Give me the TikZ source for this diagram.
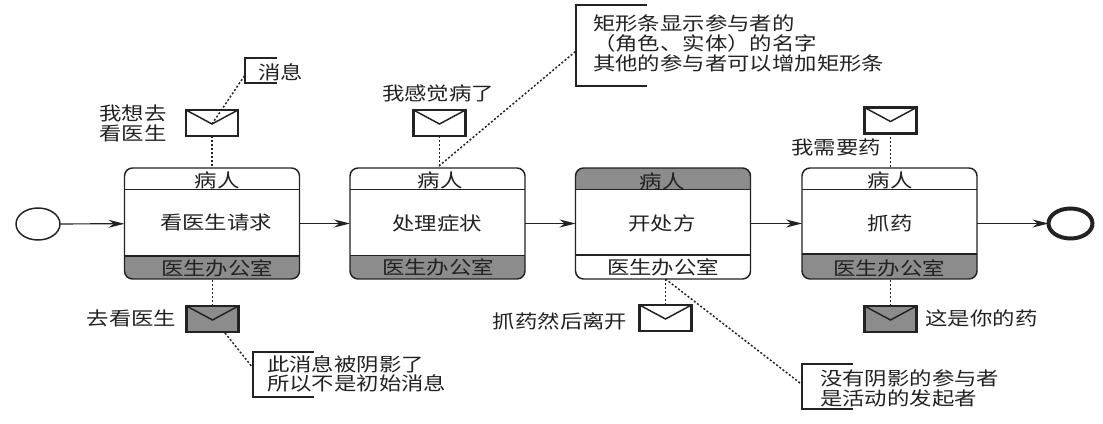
\documentclass[tikz,border=0pt]{standalone}
\usepackage{fontspec}
\setmainfont{Noto Sans CJK SC}[FakeStretch=1.2]
\usetikzlibrary{arrows.meta,calc,shapes.geometric}
\def\px{0.75pt}
\definecolor{panelgray}{HTML}{8C8C8C}
\definecolor{ink}{HTML}{222222}
\tikzset{
  every node/.style={text=ink,font=\fontsize{14pt}{15pt}\selectfont,inner sep=0pt,outer sep=0pt},
  lbl/.style={align=left},
  rlbl/.style={align=center},
  activity/.style={draw=ink,line width=1.1pt,rectangle,rounded corners=6pt,minimum width=175*\px,minimum height=111*\px},
  flow/.style={draw=ink,line width=0.9pt,-{Stealth[length=12pt,width=6pt]}},
  dots/.style={draw=ink,line width=1.1pt,dash pattern=on 1.5pt off 1.5pt},
  envelope/.style={rectangle,draw=ink,line width=1.6pt,minimum width=52*\px,minimum height=26*\px},
  shaded envelope/.style={envelope,fill=panelgray,line width=2.1pt},
  bracket/.style={draw=ink,line width=1.1pt},
  event/.style={ellipse,draw=ink,line width=1.1pt,minimum width=44*\px,minimum height=32*\px},
  endevent/.style={event,line width=3pt,minimum width=44*\px,minimum height=30*\px}
}
% name, centre x, top fill, bottom fill, bottom rule y
\newcommand{\actbox}[5]{%
  \begin{scope}
    \clip[rounded corners=6pt] (#2-87.5,168) rectangle (#2+87.5,279);
    \fill[#3] (#2-88,168) rectangle (#2+88,189.5);
    \fill[#4] (#2-88,#5) rectangle (#2+88,279);
  \end{scope}
  \node[activity] (#1) at (#2,223.5) {};
  \draw[ink,line width=1.4pt] (#1.west |- 0,189.5) -- (#1.east |- 0,189.5);
  \draw[ink,line width=1.4pt] (#1.west |- 0,#5) -- (#1.east |- 0,#5);
}
\newcommand{\envflap}[2]{%
  \coordinate (#1v) at ($(#1.north)+(0,#2)$);
  \draw[ink,line width=1.1pt] (#1.north west) -- (#1v) -- (#1.north east);
}
\begin{document}
\begin{tikzpicture}[x=0.75pt,y=-0.75pt]
\useasboundingbox[fill=white] (0,0) rectangle (1103,424);

\actbox{a}{212}{white}{panelgray}{256}
\actbox{b}{437.5}{white}{panelgray}{255.5}
\actbox{c}{663}{panelgray}{white}{255}
\actbox{d}{889.5}{white}{panelgray}{254}

\node (ah) at (217,180) {病人};
\node (bh) at (440,180) {病人};
\node (ch) at (662,181) {病人};
\node (dh) at (890,180) {病人};
\node (at) at (216,222) {看医生请求};
\node (bt) at (437,223) {处理症状};
\node (ct) at (662,223) {开处方};
\node (dt) at (890,223) {抓药};
\node (af) at (217,268) {医生办公室};
\node (bf) at (438,267) {医生办公室};
\node (cf) at (663,267) {医生办公室};
\node (df) at (889,268) {医生办公室};

\node[event] (start) at (38,224) {};
\node[endevent] (stop) at (1070.5,223.5) {};
\draw[flow] (start) -- (a);
\draw[flow] (a) -- (b);
\draw[flow] (b) -- (c);
\draw[flow] (c) -- (d);
\draw[flow] (d) -- (stop);

\node[envelope] (e1) at (212,123) {};
\node[envelope] (e2) at (439.5,123) {};
\node[envelope] (e3) at (665.5,318) {};
\node[envelope] (e4) at (890.5,120.5) {};
\node[shaded envelope] (e5) at (212.5,319) {};
\node[shaded envelope] (e6) at (890.5,319) {};
\envflap{e1}{14}
\envflap{e2}{14}
\envflap{e3}{14}
\envflap{e4}{14}
\envflap{e5}{14}
\envflap{e6}{14}

\draw[dots] (e1.south) -- (e1.south |- a.north);
\draw[dots] (e2.south) -- (e2.south |- b.north);
\coordinate (ce3) at (e3.north |- c.south);
\draw[dots] (ce3) -- (e3.north);
\draw[dots] (e4.south) -- (e4.south |- d.north);
\draw[dots] (e5.north) -- (e5.north |- a.south);
\draw[dots] (e6.north) -- (e6.north |- d.south);

\node[lbl,anchor=west] (n1) at (258,72) {消息};
\node[rlbl,anchor=center] (l1) at (133,123) {我想去\\看医生};
\node[anchor=center] (l2) at (438,93) {我感觉病了};
\node[anchor=center] (l3) at (560,321) {抓药然后离开};
\node[anchor=center] (l4) at (836,147) {我需要药};
\node[anchor=center] (l5) at (131.5,318) {去看医生};
\node[anchor=center] (l6) at (981.5,318) {这是你的药};
\node[lbl,anchor=west,font=\fontsize{14pt}{14pt}\selectfont] (n2) at (267,374) {此消息被阴影了\\所以不是初始消息};
\node[lbl,anchor=west,font=\fontsize{14pt}{15pt}\selectfont] (n3) at (593,43) {矩形条显示参与者的\\（角色、实体）的名字\\其他的参与者可以增加矩形条};
\node[lbl,anchor=west,font=\fontsize{14pt}{15pt}\selectfont] (n4) at (820,388) {没有阴影的参与者\\是活动的发起者};

\coordinate (k1) at (245,75);
\coordinate (k2) at (253,368);
\coordinate (k3) at (576,51);
\coordinate (k4) at (800,383);
\draw[bracket] (277,58) -- (245,58) -- (245,83) -- (277,83);
\draw[bracket] (314,352) -- (253,352) -- (253,397) -- (314,397);
\draw[bracket] (647,5) -- (576,5) -- (576,86) -- (647,86);
\draw[bracket] (853,364) -- (802,364) -- (802,409) -- (853,409);

\coordinate (e5o) at (225,333);
\coordinate (bo) at (439,166);
\draw[dots] (e1v) -- (k1);
\draw[dots] (e5o) -- (k2);
\draw[dots] (bo) -- (k3);
\draw[dots] (ce3) -- (k4);
\end{tikzpicture}
\end{document}
